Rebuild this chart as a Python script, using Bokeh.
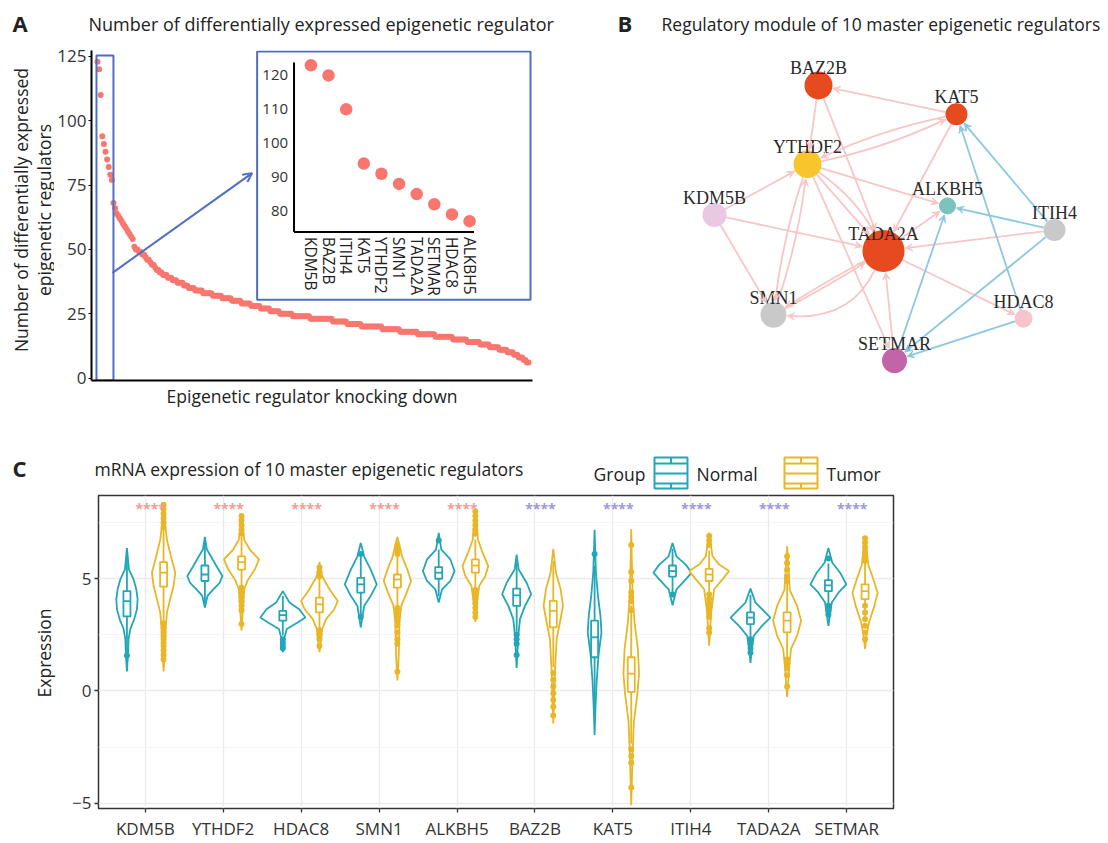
import math
from bokeh.plotting import figure
from bokeh.models import Range1d, FixedTicker, Arrow, OpenHead, VeeHead, ColumnDataSource
from bokeh.layouts import column, row
from bokeh.core.properties import value
from bokeh.embed import file_html
from bokeh.resources import INLINE

FONT = "Open Sans"
SERIF = "Liberation Serif"
RED = "#F8766D"
BLUE = "#4F6FC4"
TEAL = "#22A6B8"
GOLD = "#E9B627"
TXT = "#222222"
TSIZE = "17.5px"

# ---------------- Panel A data ----------------
top10_genes = ["KDM5B", "BAZ2B", "ITIH4", "KAT5", "YTHDF2", "SMN1", "TADA2A", "SETMAR", "HDAC8", "ALKBH5"]
top10_counts = [123, 120, 110, 94, 91, 88, 85, 82, 79, 77]
next_counts = [68, 66, 64, 63, 62, 61, 60, 59, 58, 57, 56, 55, 54, 51, 50, 50, 49, 49, 48, 48,
               47, 46, 46, 45, 44, 44, 43, 42, 42]
tail_levels = [41, 40, 39, 38, 37, 36, 35, 34, 33, 32, 31, 30, 29, 28, 27, 26, 25, 24, 23, 22,
               21, 20, 19, 18, 17, 16, 15, 14, 13, 12, 11, 10, 9, 8, 7, 6]
tail_repeats = [2, 3, 3, 3, 4, 3, 4, 5, 6, 6, 6, 6, 6, 6, 6, 6, 8, 11, 14, 9,
                9, 13, 11, 11, 11, 11, 9, 8, 6, 6, 5, 4, 3, 3, 2, 2]
a_yticks = [0, 25, 50, 75, 100, 125]
inset_yticks = [80, 90, 100, 110, 120]

# ---------------- Panel B data ----------------
node_names = ["BAZ2B", "KAT5", "YTHDF2", "KDM5B", "ALKBH5", "ITIH4", "TADA2A", "SMN1", "HDAC8", "SETMAR"]
node_x = [818, 956, 807, 714, 947, 1054, 883, 773, 1023, 894]
node_y = [85, 114, 164, 215, 206, 230, 251, 315, 319, 361]
node_r = [14, 11, 14, 12, 8.5, 11, 21, 13, 9, 12.5]
node_colors = ["#E64A1E", "#E64A1E", "#F8C62C", "#EAC8E2", "#7DC3BD", "#C9C9C9",
               "#E64A1E", "#C9C9C9", "#F6C5CB", "#C464A8"]
edge_src = ["KAT5", "BAZ2B", "BAZ2B", "YTHDF2", "KAT5", "KDM5B", "KDM5B", "KDM5B", "YTHDF2", "SMN1",
            "YTHDF2", "YTHDF2", "YTHDF2", "YTHDF2", "KAT5", "TADA2A", "ITIH4", "TADA2A", "SMN1", "TADA2A",
            "SETMAR", "TADA2A",
            "ITIH4", "HDAC8", "ITIH4", "SETMAR", "ITIH4", "HDAC8"]
edge_dst = ["BAZ2B", "YTHDF2", "TADA2A", "KAT5", "YTHDF2", "YTHDF2", "TADA2A", "SMN1", "SMN1", "YTHDF2",
            "TADA2A", "TADA2A", "SETMAR", "ALKBH5", "TADA2A", "ALKBH5", "TADA2A", "SMN1", "TADA2A", "SMN1",
            "TADA2A", "HDAC8",
            "KAT5", "KAT5", "ALKBH5", "ALKBH5", "SETMAR", "SETMAR"]
edge_kind = ["pos"] * 22 + ["neg"] * 6
edge_bend = [0, 0, 0, 0.06, 0.06, 0, 0, 0, 0.05, 0.05,
             0, -0.12, 0, 0, 0, 0, 0, 0.02, 0.02, -0.35,
             0, 0,
             0, 0, 0, 0, 0, 0]

# ---------------- Panel C data ----------------
genes_c = ["KDM5B", "YTHDF2", "HDAC8", "SMN1", "ALKBH5", "BAZ2B", "KAT5", "ITIH4", "TADA2A", "SETMAR"]
q1_normal = [3.32, 4.90, 3.13, 4.38, 5.00, 3.79, 1.50, 5.09, 2.98, 4.45]
median_normal = [4.00, 5.19, 3.38, 4.75, 5.27, 4.26, 2.39, 5.34, 3.27, 4.70]
q3_normal = [4.45, 5.59, 3.57, 5.04, 5.52, 4.56, 3.13, 5.59, 3.50, 4.94]
q1_tumor = [4.65, 5.41, 3.50, 4.60, 5.27, 2.83, -0.04, 4.90, 2.61, 4.09]
median_tumor = [5.27, 5.74, 3.86, 4.97, 5.59, 3.57, 0.77, 5.19, 3.13, 4.45]
q3_tumor = [5.74, 6.00, 4.16, 5.19, 5.86, 4.01, 1.50, 5.44, 3.50, 4.75]

profile_y_normal = [
    [0.87, 1.58, 2.32, 2.76, 3.20, 3.64, 4.09, 4.53, 4.97, 5.41, 6.37],
    [3.72, 4.24, 4.53, 4.82, 5.12, 5.56, 6.00, 6.30, 6.86],
    [1.73, 2.32, 2.76, 3.05, 3.27, 3.64, 3.94, 4.45],
    [2.83, 3.79, 4.24, 4.75, 5.41, 6.00, 6.59],
    [3.94, 4.53, 4.90, 5.34, 5.86, 6.30, 7.04],
    [1.02, 2.46, 3.20, 3.79, 4.31, 4.82, 5.41, 6.08],
    [-1.96, -0.60, 0.40, 1.58, 2.61, 3.35, 4.24, 5.27, 7.18],
    [3.82, 4.53, 4.97, 5.27, 5.63, 6.00, 6.59],
    [1.25, 1.87, 2.46, 2.91, 3.27, 3.57, 3.94, 4.56],
    [2.90, 3.94, 4.38, 4.75, 5.27, 5.71, 6.37],
]
profile_w_normal = [
    [0, 0.013, 0.021, 0.043, 0.094, 0.128, 0.137, 0.120, 0.085, 0.026, 0],
    [0, 0.034, 0.107, 0.190, 0.225, 0.150, 0.077, 0.026, 0],
    [0, 0.017, 0.050, 0.190, 0.289, 0.210, 0.085, 0],
    [0, 0.043, 0.128, 0.205, 0.128, 0.043, 0],
    [0, 0.043, 0.150, 0.203, 0.150, 0.034, 0],
    [0, 0.021, 0.043, 0.107, 0.186, 0.128, 0.026, 0],
    [0, 0.013, 0.026, 0.050, 0.088, 0.075, 0.043, 0.017, 0],
    [0, 0.050, 0.170, 0.245, 0.170, 0.050, 0],
    [0, 0.017, 0.043, 0.150, 0.255, 0.170, 0.064, 0],
    [0, 0.043, 0.128, 0.230, 0.150, 0.050, 0],
]
profile_y_tumor = [
    [0.87, 1.87, 2.76, 3.50, 4.09, 4.68, 5.27, 6.00, 6.74, 7.48, 8.39],
    [2.68, 3.60, 4.53, 4.97, 5.41, 5.86, 6.30, 6.74, 7.85],
    [1.73, 2.20, 2.76, 3.20, 3.64, 4.01, 4.53, 5.12, 5.74],
    [0.47, 1.58, 3.05, 3.79, 4.38, 4.90, 5.41, 6.00, 6.86],
    [3.08, 3.94, 4.68, 5.12, 5.56, 6.15, 6.74, 8.10],
    [-1.45, 0.87, 2.32, 3.05, 3.79, 4.53, 5.27, 6.33],
    [-5.09, -2.85, -1.37, -0.19, 0.77, 1.87, 3.05, 4.30, 7.21],
    [2.02, 3.50, 4.53, 4.97, 5.34, 5.63, 6.00, 7.06],
    [-0.27, 1.00, 1.87, 2.46, 3.13, 3.79, 4.50, 6.45],
    [1.87, 2.50, 3.05, 3.79, 4.38, 4.97, 5.60, 6.89],
]
profile_w_tumor = [
    [0, 0.017, 0.026, 0.043, 0.085, 0.128, 0.150, 0.094, 0.043, 0.017, 0],
    [0, 0.017, 0.034, 0.085, 0.170, 0.225, 0.107, 0.034, 0],
    [0, 0.017, 0.034, 0.085, 0.190, 0.235, 0.128, 0.034, 0],
    [0, 0.017, 0.026, 0.050, 0.120, 0.175, 0.128, 0.060, 0],
    [0, 0.021, 0.050, 0.128, 0.165, 0.094, 0.034, 0],
    [0, 0.021, 0.043, 0.085, 0.124, 0.094, 0.034, 0],
    [0, 0.017, 0.034, 0.077, 0.100, 0.085, 0.043, 0.017, 0],
    [0, 0.026, 0.064, 0.170, 0.255, 0.128, 0.043, 0],
    [0, 0.026, 0.050, 0.128, 0.180, 0.128, 0.034, 0],
    [0, 0.021, 0.050, 0.120, 0.162, 0.107, 0.043, 0],
]
outliers_normal = [
    [1.58], [], [2.3, 2.15, 2.0, 1.9], [6.1, 3.3], [6.7],
    [2.5, 2.3, 2.1, 1.6], [6.1], [4.3], [2.3, 2.1, 1.9, 1.7], [5.9, 3.8, 3.6, 3.4],
]
outliers_tumor = [
    [8.3, 8.1, 7.9, 7.7, 7.5, 7.3, 3.0, 2.8, 2.6, 2.45, 2.3, 2.15, 2.0, 1.8, 1.6, 1.4],
    [7.8, 7.6, 7.4, 7.2, 7.0, 4.6, 4.4, 4.2, 4.0, 3.8, 3.6, 2.98],
    [5.5, 5.3, 5.1, 2.7, 2.5, 2.3, 2.0],
    [6.5, 6.3, 6.1, 3.7, 3.5, 3.3, 3.1, 2.9, 2.6, 2.3, 2.1, 0.85],
    [8.0, 7.8, 7.6, 7.4, 7.2, 7.0, 4.5, 4.3, 4.1, 3.9, 3.7, 3.5, 3.3],
    [0.8, 0.5, 0.2, -0.1, -0.4, -0.7, -1.1],
    [6.5, 5.3, 4.9, 4.4, 4.2, 4.0, 3.6, -2.6, -2.9, -3.2, -4.3],
    [6.9, 6.7, 6.5, 4.3, 4.1, 3.9, 3.7, 3.5, 3.3, 2.8, 2.6],
    [6.0, 5.7, 5.4, 5.1, 4.9, 1.4, 1.2, 1.0, 0.7, 0.2],
    [6.8, 6.6, 6.4, 6.2, 6.0, 5.8, 3.8, 3.5, 3.2, 2.9, 2.6, 2.3],
]
group_names = ["Normal", "Tumor"]
sig_labels = ["****"] * 10
sig_direction = ["up", "up", "up", "up", "up", "down", "down", "down", "down", "down"]
c_yticks = [-5, 0, 5]
c_minor = [-2.5, 2.5, 7.5]


def blank(width, height, xr, yr, top=0, bottom=0):
    p = figure(width=width, height=height, x_range=Range1d(*xr), y_range=Range1d(*yr),
               output_backend="svg", toolbar_location=None, x_axis_type=None, y_axis_type=None,
               min_border_left=0, min_border_right=0, min_border_top=top, min_border_bottom=bottom)
    p.grid.visible = False
    p.outline_line_color = None
    return p


def put_text(p, x, y, text, size=TSIZE, bold=False, align="left", angle=0.0, font=FONT, color=TXT):
    p.text(x=[x], y=[y], text=[text], angle=angle, text_font=value(font), text_font_size=size,
           text_font_style="bold" if bold else "normal", text_color=color, text_align=align,
           text_baseline="middle")


def style_axis(ax, size="17px"):
    ax.major_tick_in = 0
    ax.minor_tick_line_color = None
    ax.major_label_text_font = FONT
    ax.major_label_text_font_size = size
    ax.major_label_text_color = "#333333"
    ax.axis_label_text_font = FONT
    ax.axis_label_text_font_size = TSIZE
    ax.axis_label_text_font_style = "normal"
    ax.axis_label_text_color = TXT


# =============== Header row (A / B titles) ===============
h1 = blank(1108, 40, (0, 1108), (40, 0))
put_text(h1, 12, 22, "A", size="22px", bold=True)
put_text(h1, 88, 23, "Number of differentially expressed epigenetic regulator", size="18px")
put_text(h1, 617, 22, "B", size="22px", bold=True)
put_text(h1, 661, 23, "Regulatory module of 10 master epigenetic regulators")

# =============== Panel A ===============
ROW1_TOP, ROW1_BOTTOM = 10, 29
leftA = blank(54, 370, (0, 54), (381, 50), top=ROW1_TOP, bottom=ROW1_BOTTOM)
put_text(leftA, 20, 210, "Number of differentially expressed", align="center", angle=math.pi / 2)
put_text(leftA, 43, 210, "epigenetic regulators", align="center", angle=math.pi / 2)

de_counts = list(top10_counts) + list(next_counts)
for lv, n in zip(tail_levels, tail_repeats):
    de_counts += [lv] * n
de_rank = list(range(1, len(de_counts) + 1))

pA = figure(width=506, height=370, x_range=Range1d(-2.74, 272.5), y_range=Range1d(-0.97, 127.33),
            output_backend="svg", toolbar_location=None, min_border_left=36, min_border_right=28,
            min_border_top=ROW1_TOP, min_border_bottom=ROW1_BOTTOM)
pA.extra_x_ranges = {"px": Range1d(90, 532), "ix": Range1d(-11.45, 13.57)}
pA.extra_y_ranges = {"py": Range1d(381, 50), "iy": Range1d(30.0, 127.35)}
pA.grid.visible = False
pA.outline_line_color = None
pA.yaxis.ticker = FixedTicker(ticks=a_yticks)
pA.xaxis.ticker = FixedTicker(ticks=[])
for ax in (pA.xaxis[0], pA.yaxis[0]):
    style_axis(ax)
    ax.axis_line_width = 2
    ax.axis_line_color = "black"
    ax.major_tick_line_color = "black"
    ax.major_tick_out = 3
    ax.major_label_standoff = 2
pA.xaxis.major_tick_line_color = None
pA.xaxis.major_tick_out = 0
pA.xaxis.major_label_standoff = 0
pA.xaxis.axis_label = "Epigenetic regulator knocking down"
pA.xaxis.axis_label_standoff = 3

pA.scatter(de_rank, de_counts, size=6, color=RED, line_color=None)
pA.quad(left=[0.37], right=[10.96], bottom=[-0.97], top=[125.4], fill_color=None,
        line_color=BLUE, line_width=2)
pA.quad(left=[256], right=[530], top=[51], bottom=[300], fill_color=None, line_color=BLUE,
        line_width=2, x_range_name="px", y_range_name="py")
pA.segment(x0=[0.04, 0.04], y0=[73.8, 73.8], x1=[0.04, 10.25], y1=[123.8, 73.8], line_color="black",
           line_width=2, x_range_name="ix", y_range_name="iy")
inset_x = list(range(1, len(top10_counts) + 1))
pA.scatter(inset_x, top10_counts, size=12.5, color=RED, line_color=None, x_range_name="ix", y_range_name="iy")
pA.text(x=[-0.3] * len(inset_yticks), y=inset_yticks, text=[str(t) for t in inset_yticks],
        text_font=value(FONT), text_font_size="15px", text_color="#333333", text_align="right",
        text_baseline="middle", x_range_name="ix", y_range_name="iy")
pA.text(x=inset_x, y=[72.35] * len(inset_x), text=top10_genes, angle=-math.pi / 2,
        text_font=value(FONT), text_font_size="15.5px", text_color="#222222", text_align="left",
        text_baseline="middle", x_range_name="ix", y_range_name="iy")
pA.add_layout(Arrow(end=OpenHead(size=9, line_color=BLUE, line_width=2), x_start=111, y_start=273,
                    x_end=251, y_end=173, line_color=BLUE, line_width=2,
                    x_range_name="px", y_range_name="py"))

# =============== Panel B ===============
pB = blank(548, 370, (560, 1108), (381, 50), top=ROW1_TOP, bottom=ROW1_BOTTOM)
pos = {n: (x, y, r) for n, x, y, r in zip(node_names, node_x, node_y, node_r)}
edge_style = {"pos": "#F7C6C6", "neg": "#8CC8E2"}
curves = {k: dict(x0=[], y0=[], x1=[], y1=[], cx=[], cy=[]) for k in edge_style}
heads = {k: dict(xs=[], ys=[], xe=[], ye=[]) for k in edge_style}
for s, t, kind, bend in zip(edge_src, edge_dst, edge_kind, edge_bend):
    x0, y0, r0 = pos[s]
    x1, y1, r1 = pos[t]
    dx, dy = x1 - x0, y1 - y0
    L = math.hypot(dx, dy)
    nx, ny = -dy / L, dx / L
    cx = (x0 + x1) / 2 + bend * L * nx
    cy = (y0 + y1) / 2 + bend * L * ny
    ux, uy = cx - x0, cy - y0
    lu = math.hypot(ux, uy)
    sx, sy = x0 + ux / lu * r0, y0 + uy / lu * r0
    vx, vy = x1 - cx, y1 - cy
    lv = math.hypot(vx, vy)
    ex, ey = x1 - vx / lv * (r1 + 1), y1 - vy / lv * (r1 + 1)
    c = curves[kind]
    c["x0"].append(sx); c["y0"].append(sy); c["x1"].append(ex); c["y1"].append(ey)
    c["cx"].append(cx); c["cy"].append(cy)
    h = heads[kind]
    h["xs"].append(ex - vx / lv * 5); h["ys"].append(ey - vy / lv * 5)
    h["xe"].append(ex); h["ye"].append(ey)

for kind, col in edge_style.items():
    pB.quadratic(x0="x0", y0="y0", x1="x1", y1="y1", cx="cx", cy="cy",
                 source=ColumnDataSource(curves[kind]), line_color=col, line_width=1.8)
    pB.add_layout(Arrow(end=VeeHead(size=7, fill_color=col, line_color=col, line_width=1),
                        x_start="xs", y_start="ys", x_end="xe", y_end="ye",
                        source=ColumnDataSource(heads[kind]), line_color=col, line_width=1.5))
pB.scatter(node_x, node_y, size=[2 * r for r in node_r], fill_color=node_colors, line_color=None)
pB.text(x=node_x, y=[y - 17 for y in node_y], text=node_names, text_font=value(SERIF),
        text_font_size="18px", text_color="#2A2A2A", text_align="center", text_baseline="middle")

# =============== Header for C (title + legend) ===============
h2 = blank(1108, 83, (0, 1108), (493, 410))
put_text(h2, 12, 467, "C", size="22px", bold=True)
put_text(h2, 94, 468, "mRNA expression of 10 master epigenetic regulators")
put_text(h2, 593, 473, "Group")
key_left = [654, 784]
key_w, key_top, key_bot = 33, 457, 488
for name, kl, col in zip(group_names, key_left, [TEAL, GOLD]):
    mid = kl + key_w / 2
    h2.quad(left=[kl], right=[kl + key_w], top=[key_top], bottom=[key_bot], fill_color="white",
            line_color=col, line_width=2)
    h2.segment(x0=[kl] * 3, x1=[kl + key_w] * 3, y0=[463, 473, 483], y1=[463, 473, 483],
               line_color=col, line_width=2)
    h2.segment(x0=[mid, mid], x1=[mid, mid], y0=[key_top, 483], y1=[463, key_bot],
               line_color=col, line_width=2)
    put_text(h2, kl + key_w + 9, 473, name)

# =============== Panel C ===============
ROW2_TOP, ROW2_BOTTOM = 2, 31
leftC = blank(60, 349, (0, 60), (811, 495), top=ROW2_TOP, bottom=ROW2_BOTTOM)
put_text(leftC, 43, 654, "Expression", align="center", angle=math.pi / 2)

pC = figure(width=1048, height=349, x_range=Range1d(0.4, 10.6), y_range=Range1d(-5.24, 8.71),
            output_backend="svg", toolbar_location=None, min_border_left=38, min_border_right=215,
            min_border_top=ROW2_TOP, min_border_bottom=ROW2_BOTTOM)
cat_x = list(range(1, len(genes_c) + 1))
pC.xaxis.ticker = FixedTicker(ticks=cat_x)
pC.xaxis.major_label_overrides = {k: g for k, g in zip(cat_x, genes_c)}
pC.yaxis.ticker = FixedTicker(ticks=c_yticks, minor_ticks=c_minor)
pC.yaxis.major_label_overrides = {t: str(t).replace("-", "\u2212") for t in c_yticks}
for ax in (pC.xaxis[0], pC.yaxis[0]):
    style_axis(ax, size="17px")
    ax.axis_line_color = None
    ax.major_tick_line_color = "#333333"
    ax.major_tick_line_width = 1.3
    ax.major_tick_out = 4
pC.xaxis.major_label_standoff = 4
pC.yaxis.major_label_standoff = 3
pC.xgrid.grid_line_color = "#EBEBEB"
pC.xgrid.grid_line_width = 1.3
pC.ygrid.grid_line_color = "#EBEBEB"
pC.ygrid.grid_line_width = 1.3
pC.ygrid.minor_grid_line_color = "#F2F2F2"
pC.ygrid.minor_grid_line_width = 0.8
pC.outline_line_color = "#333333"
pC.outline_line_width = 1.5

DODGE = 0.235
BOXW = 0.045
groups = [
    (-DODGE, TEAL, q1_normal, median_normal, q3_normal, profile_y_normal, profile_w_normal, outliers_normal),
    (DODGE, GOLD, q1_tumor, median_tumor, q3_tumor, profile_y_tumor, profile_w_tumor, outliers_tumor),
]
for off, col, q1s, meds, q3s, pys, pws, outs in groups:
    vx, vy = [], []
    for k, py_, pw_ in zip(cat_x, pys, pws):
        c = k + off
        vx.append([c + w for w in pw_] + [c - w for w in reversed(pw_)])
        vy.append(list(py_) + list(reversed(py_)))
    pC.patches(vx, vy, fill_color="white", line_color=col, line_width=1.8)

for off, col, q1s, meds, q3s, pys, pws, outs in groups:
    cxs = [k + off for k in cat_x]
    wx0, wy0, wy1 = [], [], []
    for c, q1, q3, py_ in zip(cxs, q1s, q3s, pys):
        iqr = q3 - q1
        hi = min(q3 + 1.5 * iqr, py_[-1])
        lo = max(q1 - 1.5 * iqr, py_[0])
        wx0 += [c, c]
        wy0 += [q3, q1]
        wy1 += [hi, lo]
    pC.segment(x0=wx0, y0=wy0, x1=wx0, y1=wy1, line_color=col, line_width=1.8)
    pC.quad(left=[c - BOXW for c in cxs], right=[c + BOXW for c in cxs], bottom=q1s, top=q3s,
            fill_color="white", line_color=col, line_width=1.8)
    pC.segment(x0=[c - BOXW for c in cxs], y0=meds, x1=[c + BOXW for c in cxs], y1=meds,
               line_color=col, line_width=1.8)
    ox, oy = [], []
    for c, o in zip(cxs, outs):
        ox += [c] * len(o)
        oy += o
    pC.scatter(ox, oy, size=6, fill_color=col, line_color=None)

sig_color = {"up": "#F29C98", "down": "#9C98DA"}
pC.text(x=[k + 0.07 for k in cat_x], y=[8.12] * len(cat_x), text=sig_labels,
        text_color=[sig_color[d] for d in sig_direction], text_font=value(FONT),
        text_font_size="14px", text_font_style="bold", text_align="center", text_baseline="middle")

layout = column(h1, row(leftA, pA, pB, spacing=0), h2, row(leftC, pC, spacing=0), spacing=0)
open("out.html", "w").write(file_html(layout, INLINE))
